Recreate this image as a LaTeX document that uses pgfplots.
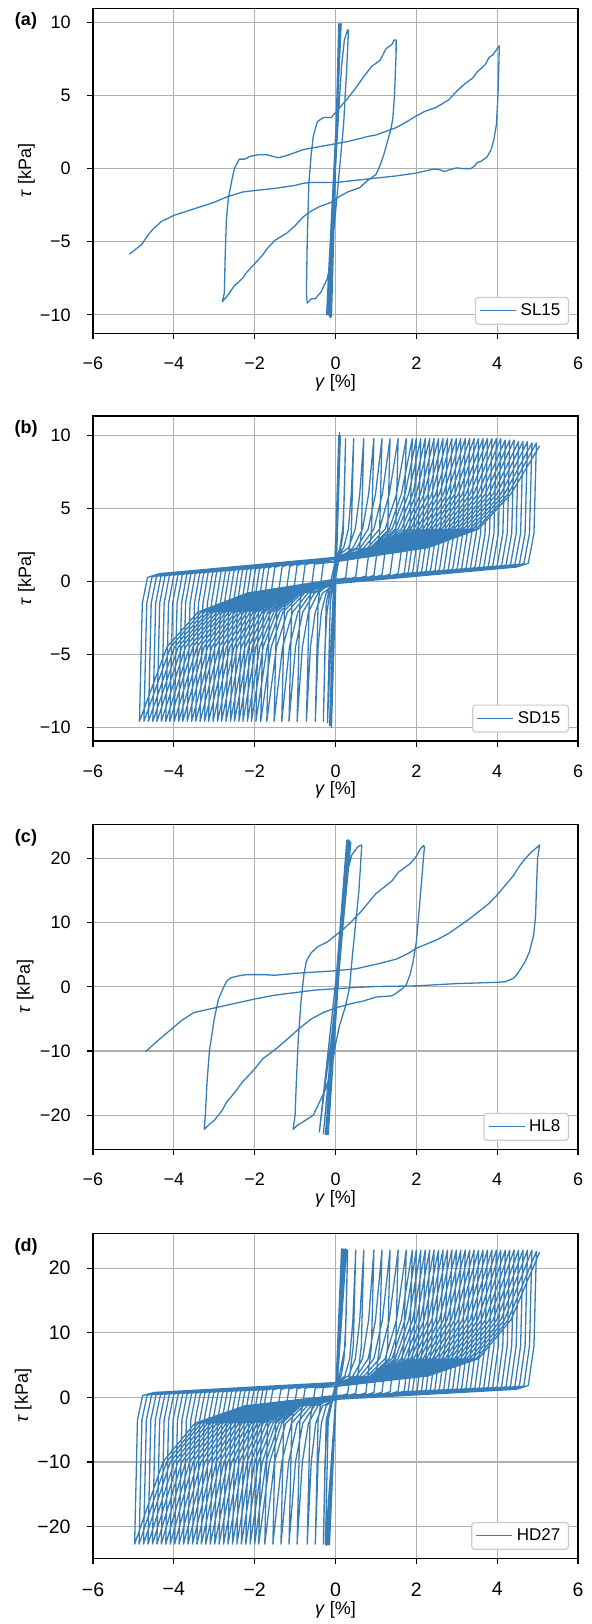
\documentclass[border=0pt]{standalone}
\usepackage{fontspec}
\setmainfont{Liberation Sans}
\usepackage{pgfplots}
\pgfplotsset{compat=1.18}
\definecolor{lc}{RGB}{55,126,184}
\definecolor{gc}{RGB}{176,176,176}
\definecolor{lg}{RGB}{204,204,204}
\pgfplotsset{
 panel/.style={
  scale only axis, width=242.5pt, height=162.5pt,
  anchor=north west,
  xmin=-6, xmax=6, xtick={-6,-4,-2,0,2,4,6},
  xticklabels={−6,−4,−2,0,2,4,6},
  tick pos=left, tick align=outside, major tick length=3pt,
  every tick/.style={black, line width=0.6pt},
  axis line style={line width=0.6pt},
  grid=major, major grid style={gc, line width=0.6pt},
  tick label style={font=\fontsize{9}{10.8}\selectfont},
  label style={font=\fontsize{9}{10.8}\selectfont},
  xticklabel style={yshift=-5.5pt},
  yticklabel style={xshift=-4.7pt},
  xlabel={\textit{γ} [\%]},
  ylabel={\textit{τ} [kPa]},
  xlabel style={at={(axis description cs:0.5,-0.151)}, anchor=center},
  ylabel style={at={(axis description cs:-0.137,0.5)}, anchor=center},
  legend style={at={(axis description cs:1,0)}, anchor=south east, xshift=-4.5pt, yshift=4.2pt,
    draw=lg, line width=0.6pt, rounded corners=1.5pt, fill=white,
    font=\fontsize{8.5}{10}\selectfont, inner xsep=2pt, inner ysep=1pt},
  legend image code/.code={\draw[#1, line width=0.6pt] (0pt,0pt) -- (18pt,0pt);},
  legend cell align=left,
 },
 curve/.style={lc, line width=0.65pt, line join=round, mark=none},
}
\begin{document}
\begin{tikzpicture}
\path[use as bounding box] (0pt,0pt) rectangle (295.5pt,-812pt);

% ---------------- (a) ----------------
\begin{axis}[panel, name=pa, at={(46.5pt,-4.15pt)},
  ymin=-11.26, ymax=10.96, ytick={-10,-5,0,5,10}, yticklabels={−10,−5,0,5,10}]
\addplot[curve] coordinates {
(0,0) (0.08,9.9) (-0.1,-10.1) (0.1,9.9) (-0.12,-10.2) (0.11,9.85) (-0.13,-10.2) (0.12,9.9) (-0.15,-10.1) (0.13,9.8) (-0.18,-10.0) (0.14,9.9) (-0.22,-10.0)
(-0.15,-6) (-0.05,-2) (0,0) (0.08,4) (0.15,7) (0.22,8.8) (0.3,9.5) (0.32,9.4) (0.28,7) (0.2,3) (0.1,0) (0,-3) (-0.1,-6) (-0.2,-7.5) (-0.35,-8.4) (-0.5,-8.9) (-0.6,-8.9) (-0.7,-9.2)
(-0.72,-8.5) (-0.7,-5) (-0.66,-1) (-0.6,1) (-0.55,2.2) (-0.45,3.2) (-0.3,3.5) (-0.1,3.5) (0.05,4) (0.3,4.8) (0.5,5.5) (0.7,6.3) (0.9,7) (1.1,7.4) (1.25,8.2) (1.4,8.5) (1.45,8.8) (1.5,8.8)
(1.5,8) (1.46,5) (1.42,3.5) (1.38,2.8) (1.3,2) (1.2,1) (1.1,0.2) (1,-0.4) (0.8,-0.8) (0.6,-1.3) (0.3,-1.6) (0.1,-1.9) (-0.1,-2.3) (-0.4,-2.6) (-0.6,-2.9) (-0.8,-3.3) (-1,-3.9) (-1.2,-4.4) (-1.5,-4.9) (-1.7,-5.5) (-1.8,-5.9) (-2,-6.5) (-2.2,-7.1) (-2.3,-7.5) (-2.5,-8) (-2.65,-8.6) (-2.8,-9.1)
(-2.75,-8.5) (-2.73,-6) (-2.7,-3.5) (-2.65,-2) (-2.55,-0.6) (-2.5,0) (-2.45,0.3) (-2.38,0.65) (-2.25,0.65) (-2.1,0.85) (-1.9,0.95) (-1.7,0.95) (-1.5,0.8) (-1.4,0.75) (-1.2,0.9) (-1,1.1) (-0.8,1.3) (-0.5,1.45) (-0.2,1.6) (0,1.7) (0.3,1.85) (0.6,2.05) (0.8,2.2) (1,2.3) (1.2,2.5) (1.5,2.8) (1.7,3.1) (2,3.6) (2.2,3.9) (2.5,4.2) (2.8,4.7) (3,5.3) (3.2,5.8) (3.4,6.2) (3.5,6.6) (3.7,7.1) (3.8,7.6) (3.9,7.8) (4,8.2) (4.05,8.4)
(4.05,8) (4.02,5) (3.98,3) (3.92,2) (3.85,1.3) (3.75,0.8) (3.6,0.5) (3.5,0.4) (3.45,0.2) (3.35,0) (3.15,0) (3,0.05) (2.85,-0.05) (2.7,-0.2) (2.55,-0.05) (2.4,-0.05) (2,-0.3) (1.5,-0.5) (1,-0.65) (0.5,-0.8) (0,-0.95) (-0.6,-0.95) (-0.8,-1) (-1,-1.15) (-1.5,-1.35) (-2,-1.5) (-2.3,-1.6) (-2.7,-1.95) (-3,-2.3) (-3.5,-2.75) (-4,-3.2) (-4.3,-3.6) (-4.5,-4.1) (-4.6,-4.4) (-4.8,-5.2) (-5.1,-5.85)
};
\addlegendentry{SL15}
\end{axis}
\node[font=\fontsize{9}{10.8}\selectfont\bfseries] at (13pt,-10.5pt) {(a)};

% ---------------- (b) ----------------
\begin{axis}[panel, name=pb, at={(46.5pt,-208pt)},
  ymin=-10.95, ymax=11.35, ytick={-10,-5,0,5,10}, yticklabels={−10,−5,0,5,10}]
\addplot[curve] coordinates {
(0,0) (0.1,10.2) (-0.1,-10) (0.08,10) (-0.12,-9.9) (0.1,10.1) (-0.1,-9.9) (0.12,9.9) (-0.15,-9.9) (0.12,10) (-0.2,-9.7)
(-0.13,-1.5) (0,1.35) (0.11,2.3) (0.18,3.6) (0.22,6) (0.25,9.8) (0.19,3.3) (0,0.15) (-0.14,-0.8) (-0.21,-2.1) (-0.26,-4.5) (-0.3,-9.6)
(-0.23,-1.5) (0,1.5) (0.2,2.3) (0.32,3.6) (0.39,6) (0.45,9.8) (0.39,3.3) (0.25,0.26) (0,0) (-0.23,-0.8) (-0.35,-2.1) (-0.43,-4.5) (-0.5,-9.6)
(-0.43,-1.5) (-0.3,1.23) (0,1.65) (0.32,2.3) (0.49,3.6) (0.6,6) (0.7,9.8) (0.64,3.3) (0.5,0.31) (0,-0.15) (-0.32,-0.8) (-0.5,-2.1) (-0.62,-4.5) (-0.72,-9.6)
(-0.65,-1.5) (-0.52,1.19) (0,1.35) (0.43,2.3) (0.67,3.6) (0.82,6) (0.95,9.8) (0.89,3.3) (0.75,0.37) (0.45,0.1) (0,0.15) (-0.43,-0.8) (-0.67,-2.1) (-0.82,-4.5) (-0.95,-9.6)
(-0.88,-1.5) (-0.75,1.14) (-0.45,1.4) (0,1.5) (0.52,2.3) (0.81,3.6) (0.99,6) (1.15,9.8) (1.09,3.3) (0.95,0.41) (0.65,0.14) (0,0) (-0.52,-0.8) (-0.81,-2.1) (-0.99,-4.5) (-1.15,-9.6)
(-1.08,-1.5) (-0.95,1.09) (-0.65,1.36) (0,1.65) (0.61,2.3) (0.95,3.6) (1.16,6) (1.35,9.8) (1.29,3.3) (1.15,0.45) (0.85,0.19) (0,-0.15) (-0.6,-0.8) (-0.93,-2.1) (-1.14,-4.5) (-1.33,-9.6)
(-1.26,-1.5) (-1.13,1.05) (-0.83,1.32) (0,1.35) (0.7,2.3) (1.09,3.6) (1.33,6) (1.55,9.8) (1.49,3.3) (1.35,0.5) (1.05,0.23) (0,0.15) (-0.68,-0.8) (-1.06,-2.1) (-1.31,-4.5) (-1.52,-9.6)
(-1.45,-1.5) (-1.32,1.01) (-1.02,1.28) (0,1.5) (0.79,2.3) (1.23,3.6) (1.51,6) (1.75,9.8) (1.69,3.3) (1.55,0.54) (1.25,0.28) (0,0) (-0.77,-0.8) (-1.19,-2.1) (-1.46,-4.5) (-1.7,-9.6)
(-1.63,-1.5) (-1.5,0.97) (-1.2,1.24) (0,1.65) (0.86,2.3) (1.33,3.6) (1.63,6) (1.9,9.8) (1.84,3.3) (1.7,0.57) (1.4,0.31) (0,-0.15) (-0.83,-0.8) (-1.3,-2.1) (-1.59,-4.5) (-1.85,-9.6)
(-1.78,-1.5) (-1.65,0.94) (-1.35,1.2) (0,1.35) (0.9,2.3) (1.4,3.6) (1.72,6) (2,9.8) (1.94,3.3) (1.8,0.6) (1.5,0.33) (0,0.15) (-0.89,-0.8) (-1.38,-2.1) (-1.69,-4.5) (-1.97,-9.6)
(-1.9,-1.5) (-1.77,0.91) (-1.47,1.18) (0,1.5) (0.95,2.3) (1.48,3.6) (1.81,6) (2.11,9.8) (2.05,3.3) (1.91,0.62) (1.61,0.35) (0,0) (-0.94,-0.8) (-1.46,-2.1) (-1.79,-4.5) (-2.08,-9.6)
(-2.01,-1.5) (-1.88,0.89) (-1.58,1.15) (0,1.65) (1,2.3) (1.55,3.6) (1.91,6) (2.22,9.8) (2.16,3.3) (2.02,0.64) (1.72,0.38) (0,-0.15) (-0.98,-0.8) (-1.53,-2.1) (-1.87,-4.5) (-2.18,-9.6)
(-2.11,-1.5) (-1.98,0.86) (-1.68,1.13) (0,1.35) (1.05,2.3) (1.63,3.6) (2,6) (2.33,9.8) (2.27,3.3) (2.13,0.67) (1.83,0.4) (0,0.15) (-1.03,-0.8) (-1.6,-2.1) (-1.97,-4.5) (-2.29,-9.6)
(-2.22,-1.5) (-2.09,0.84) (-1.79,1.11) (0,1.5) (1.1,2.3) (1.71,3.6) (2.1,6) (2.44,9.8) (2.38,3.3) (2.24,0.69) (1.94,0.43) (0,0) (-1.08,-0.8) (-1.67,-2.1) (-2.06,-4.5) (-2.39,-9.6)
(-2.32,-1.5) (-2.19,0.82) (-1.89,1.08) (0,1.65) (1.15,2.3) (1.79,3.6) (2.19,6) (2.55,9.8) (2.49,3.3) (2.35,0.72) (2.05,0.45) (0,-0.15) (-1.13,-0.8) (-1.75,-2.1) (-2.15,-4.5) (-2.5,-9.6)
(-2.43,-1.5) (-2.3,0.79) (-2,1.06) (0,1.35) (1.2,2.3) (1.86,3.6) (2.29,6) (2.66,9.8) (2.6,3.3) (2.46,0.74) (2.16,0.48) (0,0.15) (-1.17,-0.8) (-1.82,-2.1) (-2.24,-4.5) (-2.6,-9.6)
(-2.53,-1.5) (-2.4,0.77) (-2.1,1.04) (0,1.5) (1.25,2.3) (1.94,3.6) (2.38,6) (2.77,9.8) (2.71,3.3) (2.57,0.77) (2.27,0.5) (0,0) (-1.22,-0.8) (-1.9,-2.1) (-2.33,-4.5) (-2.71,-9.6)
(-2.64,-1.5) (-2.51,0.75) (-2.21,1.01) (0,1.65) (1.3,2.3) (2.02,3.6) (2.48,6) (2.88,9.8) (2.82,3.3) (2.68,0.79) (2.38,0.52) (0,-0.15) (-1.27,-0.8) (-1.97,-2.1) (-2.43,-4.5) (-2.82,-9.6)
(-2.75,-1.5) (-2.62,0.72) (-2.32,0.99) (0,1.35) (1.35,2.3) (2.09,3.6) (2.57,6) (2.99,9.8) (2.93,3.3) (2.79,0.81) (2.49,0.55) (0,0.15) (-1.31,-0.8) (-2.04,-2.1) (-2.51,-4.5) (-2.92,-9.6)
(-2.85,-1.5) (-2.72,0.7) (-2.42,0.97) (0,1.5) (1.4,2.3) (2.17,3.6) (2.67,6) (3.1,9.8) (3.04,3.3) (2.9,0.84) (2.6,0.57) (0,0) (-1.36,-0.8) (-2.12,-2.1) (-2.61,-4.5) (-3.03,-9.6)
(-2.96,-1.5) (-2.83,0.68) (-2.53,0.94) (0,1.65) (1.44,2.3) (2.25,3.6) (2.76,6) (3.21,9.8) (3.15,3.3) (3.01,0.86) (2.71,0.6) (0,-0.15) (-1.41,-0.8) (-2.2,-2.1) (-2.7,-4.5) (-3.14,-9.6)
(-3.07,-1.5) (-2.94,0.65) (-2.64,0.92) (0,1.35) (1.49,2.3) (2.32,3.6) (2.86,6) (3.32,9.8) (3.26,3.3) (3.12,0.89) (2.82,0.62) (0,0.15) (-1.46,-0.8) (-2.27,-2.1) (-2.79,-4.5) (-3.24,-9.6)
(-3.17,-1.5) (-3.04,0.63) (-2.74,0.9) (0,1.5) (1.54,2.3) (2.4,3.6) (2.95,6) (3.43,9.8) (3.37,3.3) (3.23,0.91) (2.93,0.64) (0,0) (-1.51,-0.8) (-2.35,-2.1) (-2.88,-4.5) (-3.35,-9.6)
(-3.28,-1.5) (-3.15,0.61) (-2.85,0.87) (0,1.65) (1.59,2.3) (2.48,3.6) (3.04,6) (3.54,9.8) (3.48,3.3) (3.34,0.93) (3.04,0.67) (0,-0.15) (-1.56,-0.8) (-2.42,-2.1) (-2.98,-4.5) (-3.46,-9.6)
(-3.39,-1.5) (-3.26,0.58) (-2.96,0.85) (0,1.35) (1.64,2.3) (2.56,3.6) (3.14,6) (3.65,9.8) (3.59,3.3) (3.45,0.96) (3.15,0.69) (0,0.15) (-1.6,-0.8) (-2.49,-2.1) (-3.06,-4.5) (-3.56,-9.6)
(-3.49,-1.5) (-3.36,0.56) (-3.06,0.83) (0,1.5) (1.69,2.3) (2.63,3.6) (3.23,6) (3.76,9.8) (3.7,3.3) (3.56,0.98) (3.26,0.72) (0,0) (-1.65,-0.8) (-2.57,-2.1) (-3.16,-4.5) (-3.67,-9.6)
(-3.6,-1.5) (-3.47,0.54) (-3.17,0.8) (0,1.65) (1.74,2.3) (2.71,3.6) (3.33,6) (3.87,9.8) (3.81,3.3) (3.67,1.01) (3.37,0.74) (0,-0.15) (-1.7,-0.8) (-2.65,-2.1) (-3.25,-4.5) (-3.78,-9.6)
(-3.71,-1.5) (-3.58,0.51) (-3.28,0.78) (0,1.35) (1.79,2.3) (2.79,3.6) (3.42,6) (3.98,9.8) (3.92,3.3) (3.78,1.03) (3.48,0.77) (0,0.15) (-1.75,-0.8) (-2.72,-2.1) (-3.34,-4.5) (-3.88,-9.6)
(-3.81,-1.5) (-3.68,0.49) (-3.38,0.76) (0,1.5) (1.84,2.3) (2.86,3.6) (3.52,6) (4.09,9.8) (4.03,3.3) (3.89,1.06) (3.59,0.79) (0,0) (-1.8,-0.8) (-2.79,-2.1) (-3.43,-4.5) (-3.99,-9.6)
(-3.92,-1.5) (-3.79,0.47) (-3.49,0.73) (0,1.65) (1.89,2.3) (2.94,3.6) (3.61,6) (4.2,9.7) (4.14,3.3) (4,1.08) (3.7,0.81) (0,-0.15) (-1.85,-0.8) (-2.87,-2.1) (-3.53,-4.5) (-4.1,-9.6)
(-4.03,-1.5) (-3.9,0.44) (-3.6,0.71) (0,1.35) (1.94,2.3) (3.02,3.6) (3.71,6) (4.31,9.7) (4.25,3.3) (4.11,1.1) (3.81,0.84) (0,0.15) (-1.89,-0.8) (-2.94,-2.1) (-3.61,-4.5) (-4.2,-9.6)
(-4.13,-1.5) (-4,0.42) (-3.7,0.69) (0,1.5) (1.99,2.3) (3.09,3.6) (3.8,6) (4.42,9.7) (4.36,3.3) (4.22,1.13) (3.92,0.86) (0,0) (-1.94,-0.8) (-3.02,-2.1) (-3.71,-4.5) (-4.31,-9.6)
(-4.24,-1.5) (-4.11,0.4) (-3.81,0.66) (0,1.65) (2.04,2.3) (3.17,3.6) (3.9,6) (4.53,9.6) (4.47,3.3) (4.33,1.15) (4.03,0.89) (0,-0.15) (-1.99,-0.8) (-3.09,-2.1) (-3.8,-4.5) (-4.42,-9.6)
(-4.35,-1.5) (-4.22,0.37) (-3.92,0.64) (0,1.35) (2.09,2.3) (3.25,3.6) (3.99,6) (4.64,9.6) (4.58,3.3) (4.44,1.18) (4.14,0.91) (0,0.15) (-2.03,-0.8) (-3.16,-2.1) (-3.89,-4.5) (-4.52,-9.6)
(-4.45,-1.5) (-4.32,0.35) (-4.02,0.62) (0,1.5) (2.14,2.3) (3.33,3.6) (4.09,6) (4.75,9.6) (4.69,3.3) (4.55,1.2) (4.25,0.94) (0,0) (-2.08,-0.8) (-3.24,-2.1) (-3.98,-4.5) (-4.63,-9.6)
(-4.56,-1.5) (-4.43,0.33) (-4.13,0.59) (0,1.65) (2.19,2.3) (3.4,3.6) (4.18,6) (4.86,9.5) (4.8,3.3) (4.66,1.23) (4.36,0.96) (0,-0.15) (-2.13,-0.8) (-3.32,-2.1) (-4.08,-4.5) (-4.74,-9.6)
(-4.67,-1.5) (-4.54,0.3) (-4.24,0.57) (0,1.35) (2.24,2.3) (3.48,3.6) (4.27,6) (4.97,9.5) (4.91,3.3) (4.77,1.25) (4.47,0.98) (0,0.15) (-2.18,-0.8) (-3.4,-2.1) (-4.17,-4.5) (-4.85,-9.6)
(-4.78,-1.5) (-4.65,0.28) (-4.35,0.54) (0,1.5) (2.27,2.3) (3.54,3.6) (4.34,6) (5.05,9.3)
};
\addlegendentry{SD15}
\end{axis}
\node[font=\fontsize{9}{10.8}\selectfont\bfseries] at (13pt,-214.5pt) {(b)};

% ---------------- (c) ----------------
\begin{axis}[panel, name=pc, at={(46.5pt,-412.15pt)},
  ymin=-25.3, ymax=25.3, ytick={-20,-10,0,10,20}, yticklabels={−20,−10,0,10,20},
  ylabel style={at={(axis description cs:-0.14,0.5)}}]
\addplot[curve] coordinates {
(0,0) (0.28,22.8) (-0.18,-23) (0.3,22.9) (-0.2,-23) (0.32,22.7) (-0.22,-23) (0.34,22.8) (-0.25,-23) (0.36,22.6) (-0.3,-22.9) (0.38,22.5) (-0.4,-22.6)
(-0.25,-15) (-0.1,-8) (0,-2) (0.1,5) (0.2,12) (0.3,18) (0.4,20.5) (0.55,21.8) (0.65,22.1)
(0.63,20) (0.58,15) (0.5,10) (0.42,5) (0.35,0) (0.25,-3) (0.1,-6) (0,-9) (-0.1,-13) (-0.25,-16) (-0.4,-18) (-0.55,-20) (-0.8,-21) (-0.95,-21.6) (-1.05,-22.2)
(-1,-20) (-0.97,-15) (-0.92,-8) (-0.85,-2) (-0.78,2) (-0.72,4) (-0.6,5.3) (-0.45,6.2) (-0.2,7) (0,8) (0.2,9) (0.4,10.2) (0.6,11.5) (0.8,13) (1,14.5) (1.2,15.5) (1.4,16.5) (1.55,17.8) (1.7,18.5) (1.85,19.2) (2,20.3) (2.1,21.5) (2.18,22)
(2.2,21.8) (2.15,18) (2.07,12) (2,7) (1.92,4) (1.85,2) (1.75,0.3) (1.65,-0.3) (1.5,-1) (1.4,-1.4) (1.2,-1.5) (1,-1.6) (0.7,-2.2) (0.4,-2.6) (0,-3.3) (-0.3,-4) (-0.6,-5) (-0.9,-6.5) (-1.2,-8.2) (-1.5,-9.8) (-1.8,-11.2) (-2,-12.8) (-2.3,-14.8) (-2.5,-16.5) (-2.7,-18) (-2.8,-19.2) (-3,-20.8) (-3.1,-21.3) (-3.25,-22.2)
(-3.22,-20) (-3.18,-15) (-3.12,-10) (-3,-5) (-2.9,-2) (-2.8,-0.5) (-2.7,0.8) (-2.6,1.4) (-2.4,1.7) (-2.2,1.9) (-1.8,1.9) (-1.5,1.8) (-1,2.1) (-0.5,2.3) (0,2.5) (0.5,2.8) (1,3.5) (1.5,4.3) (1.8,5.2) (2,6) (2.5,7.3) (2.8,8.3) (3,9.2) (3.3,10.5) (3.5,11.5) (3.8,13) (4,14.3) (4.2,15.8) (4.4,17.3) (4.55,18.8) (4.7,20) (4.85,21) (5,21.8) (5.05,22.1)
(5,20) (4.97,15) (4.95,11) (4.9,8) (4.8,5.5) (4.7,4) (4.6,3) (4.5,2) (4.4,1.3) (4.2,0.8) (4,0.7) (3,0.5) (2,0.15) (1,0.05) (0.5,-0.1) (0,-0.3) (-0.5,-0.5) (-1,-0.9) (-1.5,-1.3) (-2,-1.9) (-2.5,-2.6) (-3,-3.3) (-3.5,-4) (-3.8,-5.2) (-4.1,-6.8) (-4.4,-8.4) (-4.7,-10.1)
};
\addlegendentry{HL8}
\end{axis}
\node[font=\fontsize{9}{10.8}\selectfont\bfseries] at (13pt,-418.7pt) {(c)};

% ---------------- (d) ----------------
\begin{axis}[panel, name=pd, at={(46.5pt,-616.65pt)},
  ymin=-24.9, ymax=25.4, ytick={-20,-10,0,10,20}, yticklabels={−20,−10,0,10,20},
  tick label style={font=\fontsize{9.75}{11.5}\selectfont},
  ylabel style={at={(axis description cs:-0.144,0.5)}},
  xlabel style={at={(axis description cs:0.5,-0.159)}}]
\addplot[curve] coordinates {
(0,0) (0.15,23) (-0.15,-22.8) (0.18,23) (-0.18,-22.8) (0.21,22.9) (-0.2,-22.8) (0.24,23) (-0.23,-22.9) (0.27,22.9) (-0.25,-22.7)
(-0.18,-3.5) (0,1.7) (0.14,3.3) (0.21,6) (0.26,12) (0.3,22.8) (0.24,8) (0,0.3) (-0.14,-1.3) (-0.21,-4) (-0.26,-10) (-0.3,-22.7)
(-0.23,-3.5) (0,2) (0.23,3.3) (0.35,6) (0.43,12) (0.5,22.8) (0.44,8) (0.3,0.58) (0,0) (-0.23,-1.3) (-0.35,-4) (-0.43,-10) (-0.5,-22.7)
(-0.43,-3.5) (-0.3,1.52) (0,2.3) (0.32,3.3) (0.49,6) (0.6,12) (0.7,22.8) (0.64,8) (0.5,0.64) (0,-0.3) (-0.32,-1.3) (-0.49,-4) (-0.6,-10) (-0.7,-22.7)
(-0.63,-3.5) (-0.5,1.47) (0,1.7) (0.43,3.3) (0.67,6) (0.82,12) (0.95,22.8) (0.89,8) (0.75,0.71) (0.45,0.13) (0,0.3) (-0.43,-1.3) (-0.67,-4) (-0.82,-10) (-0.95,-22.7)
(-0.88,-3.5) (-0.75,1.4) (-0.45,1.88) (0,2) (0.52,3.3) (0.81,6) (0.99,12) (1.15,22.8) (1.09,8) (0.95,0.77) (0.65,0.18) (0,0) (-0.52,-1.3) (-0.81,-4) (-0.99,-10) (-1.15,-22.7)
(-1.08,-3.5) (-0.95,1.34) (-0.65,1.82) (0,2.3) (0.61,3.3) (0.95,6) (1.16,12) (1.35,22.8) (1.29,8) (1.15,0.82) (0.85,0.24) (0,-0.3) (-0.61,-1.3) (-0.95,-4) (-1.16,-10) (-1.35,-22.7)
(-1.28,-3.5) (-1.15,1.29) (-0.85,1.77) (0,1.7) (0.7,3.3) (1.09,6) (1.33,12) (1.55,22.8) (1.49,8) (1.35,0.88) (1.05,0.29) (0,0.3) (-0.7,-1.3) (-1.09,-4) (-1.33,-10) (-1.55,-22.7)
(-1.48,-3.5) (-1.35,1.24) (-1.05,1.72) (0,2) (0.79,3.3) (1.23,6) (1.51,12) (1.75,22.8) (1.69,8) (1.55,0.93) (1.25,0.35) (0,0) (-0.79,-1.3) (-1.23,-4) (-1.51,-10) (-1.75,-22.7)
(-1.68,-3.5) (-1.55,1.18) (-1.25,1.66) (0,2.3) (0.86,3.3) (1.33,6) (1.63,12) (1.9,22.8) (1.84,8) (1.7,0.98) (1.4,0.39) (0,-0.3) (-0.86,-1.3) (-1.33,-4) (-1.63,-10) (-1.9,-22.7)
(-1.83,-3.5) (-1.7,1.14) (-1.4,1.62) (0,1.7) (0.9,3.3) (1.4,6) (1.72,12) (2,22.8) (1.94,8) (1.8,1) (1.5,0.42) (0,0.3) (-0.9,-1.3) (-1.4,-4) (-1.72,-10) (-2,-22.7)
(-1.93,-3.5) (-1.8,1.11) (-1.5,1.6) (0,2) (0.95,3.3) (1.48,6) (1.81,12) (2.11,22.8) (2.05,8) (1.91,1.03) (1.61,0.45) (0,0) (-0.95,-1.3) (-1.48,-4) (-1.81,-10) (-2.11,-22.7)
(-2.04,-3.5) (-1.91,1.08) (-1.61,1.57) (0,2.3) (1,3.3) (1.55,6) (1.91,12) (2.22,22.8) (2.16,8) (2.02,1.07) (1.72,0.48) (0,-0.3) (-1,-1.3) (-1.55,-4) (-1.91,-10) (-2.22,-22.7)
(-2.15,-3.5) (-2.02,1.05) (-1.72,1.54) (0,1.7) (1.05,3.3) (1.63,6) (2,12) (2.33,22.8) (2.27,8) (2.13,1.1) (1.83,0.51) (0,0.3) (-1.05,-1.3) (-1.63,-4) (-2,-10) (-2.33,-22.7)
(-2.26,-3.5) (-2.13,1.03) (-1.83,1.51) (0,2) (1.1,3.3) (1.71,6) (2.1,12) (2.44,22.8) (2.38,8) (2.24,1.13) (1.94,0.54) (0,0) (-1.1,-1.3) (-1.71,-4) (-2.1,-10) (-2.44,-22.7)
(-2.37,-3.5) (-2.24,1) (-1.94,1.48) (0,2.3) (1.15,3.3) (1.79,6) (2.19,12) (2.55,22.8) (2.49,8) (2.35,1.16) (2.05,0.57) (0,-0.3) (-1.15,-1.3) (-1.79,-4) (-2.19,-10) (-2.55,-22.7)
(-2.48,-3.5) (-2.35,0.97) (-2.05,1.45) (0,1.7) (1.2,3.3) (1.86,6) (2.29,12) (2.66,22.8) (2.6,8) (2.46,1.19) (2.16,0.6) (0,0.3) (-1.2,-1.3) (-1.86,-4) (-2.29,-10) (-2.66,-22.7)
(-2.59,-3.5) (-2.46,0.94) (-2.16,1.42) (0,2) (1.25,3.3) (1.94,6) (2.38,12) (2.77,22.8) (2.71,8) (2.57,1.22) (2.27,0.64) (0,0) (-1.25,-1.3) (-1.94,-4) (-2.38,-10) (-2.77,-22.7)
(-2.7,-3.5) (-2.57,0.91) (-2.27,1.39) (0,2.3) (1.3,3.3) (2.02,6) (2.48,12) (2.88,22.8) (2.82,8) (2.68,1.25) (2.38,0.67) (0,-0.3) (-1.3,-1.3) (-2.02,-4) (-2.48,-10) (-2.88,-22.7)
(-2.81,-3.5) (-2.68,0.88) (-2.38,1.36) (0,1.7) (1.35,3.3) (2.09,6) (2.57,12) (2.99,22.8) (2.93,8) (2.79,1.28) (2.49,0.7) (0,0.3) (-1.35,-1.3) (-2.09,-4) (-2.57,-10) (-2.99,-22.7)
(-2.92,-3.5) (-2.79,0.85) (-2.49,1.33) (0,2) (1.4,3.3) (2.17,6) (2.67,12) (3.1,22.8) (3.04,8) (2.9,1.31) (2.6,0.73) (0,0) (-1.4,-1.3) (-2.17,-4) (-2.67,-10) (-3.1,-22.7)
(-3.03,-3.5) (-2.9,0.82) (-2.6,1.3) (0,2.3) (1.44,3.3) (2.25,6) (2.76,12) (3.21,22.8) (3.15,8) (3.01,1.34) (2.71,0.76) (0,-0.3) (-1.44,-1.3) (-2.25,-4) (-2.76,-10) (-3.21,-22.7)
(-3.14,-3.5) (-3.01,0.79) (-2.71,1.27) (0,1.7) (1.49,3.3) (2.32,6) (2.86,12) (3.32,22.8) (3.26,8) (3.12,1.37) (2.82,0.79) (0,0.3) (-1.49,-1.3) (-2.32,-4) (-2.86,-10) (-3.32,-22.7)
(-3.25,-3.5) (-3.12,0.76) (-2.82,1.24) (0,2) (1.54,3.3) (2.4,6) (2.95,12) (3.43,22.8) (3.37,8) (3.23,1.4) (2.93,0.82) (0,0) (-1.54,-1.3) (-2.4,-4) (-2.95,-10) (-3.43,-22.7)
(-3.36,-3.5) (-3.23,0.73) (-2.93,1.21) (0,2.3) (1.59,3.3) (2.48,6) (3.04,12) (3.54,22.8) (3.48,8) (3.34,1.44) (3.04,0.85) (0,-0.3) (-1.59,-1.3) (-2.48,-4) (-3.04,-10) (-3.54,-22.7)
(-3.47,-3.5) (-3.34,0.7) (-3.04,1.18) (0,1.7) (1.64,3.3) (2.56,6) (3.14,12) (3.65,22.8) (3.59,8) (3.45,1.47) (3.15,0.88) (0,0.3) (-1.64,-1.3) (-2.56,-4) (-3.14,-10) (-3.65,-22.7)
(-3.58,-3.5) (-3.45,0.67) (-3.15,1.15) (0,2) (1.69,3.3) (2.63,6) (3.23,12) (3.76,22.8) (3.7,8) (3.56,1.5) (3.26,0.91) (0,0) (-1.69,-1.3) (-2.63,-4) (-3.23,-10) (-3.76,-22.7)
(-3.69,-3.5) (-3.56,0.64) (-3.26,1.12) (0,2.3) (1.74,3.3) (2.71,6) (3.33,12) (3.87,22.8) (3.81,8) (3.67,1.53) (3.37,0.94) (0,-0.3) (-1.74,-1.3) (-2.71,-4) (-3.33,-10) (-3.87,-22.7)
(-3.8,-3.5) (-3.67,0.61) (-3.37,1.09) (0,1.7) (1.79,3.3) (2.79,6) (3.42,12) (3.98,22.8) (3.92,8) (3.78,1.56) (3.48,0.97) (0,0.3) (-1.79,-1.3) (-2.79,-4) (-3.42,-10) (-3.98,-22.7)
(-3.91,-3.5) (-3.78,0.58) (-3.48,1.06) (0,2) (1.84,3.3) (2.86,6) (3.52,12) (4.09,22.8) (4.03,8) (3.89,1.59) (3.59,1.01) (0,0) (-1.84,-1.3) (-2.86,-4) (-3.52,-10) (-4.09,-22.7)
(-4.02,-3.5) (-3.89,0.55) (-3.59,1.03) (0,2.3) (1.89,3.3) (2.94,6) (3.61,12) (4.2,22.8) (4.14,8) (4,1.62) (3.7,1.04) (0,-0.3) (-1.89,-1.3) (-2.94,-4) (-3.61,-10) (-4.2,-22.7)
(-4.13,-3.5) (-4,0.52) (-3.7,1) (0,1.7) (1.94,3.3) (3.02,6) (3.71,12) (4.31,22.8) (4.25,8) (4.11,1.65) (3.81,1.07) (0,0.3) (-1.94,-1.3) (-3.02,-4) (-3.71,-10) (-4.31,-22.7)
(-4.24,-3.5) (-4.11,0.49) (-3.81,0.97) (0,2) (1.99,3.3) (3.09,6) (3.8,12) (4.42,22.8) (4.36,8) (4.22,1.68) (3.92,1.1) (0,0) (-1.99,-1.3) (-3.09,-4) (-3.8,-10) (-4.42,-22.7)
(-4.35,-3.5) (-4.22,0.46) (-3.92,0.94) (0,2.3) (2.04,3.3) (3.17,6) (3.9,12) (4.53,22.8) (4.47,8) (4.33,1.71) (4.03,1.13) (0,-0.3) (-2.04,-1.3) (-3.17,-4) (-3.9,-10) (-4.53,-22.7)
(-4.46,-3.5) (-4.33,0.43) (-4.03,0.91) (0,1.7) (2.09,3.3) (3.25,6) (3.99,12) (4.64,22.8) (4.58,8) (4.44,1.74) (4.14,1.16) (0,0.3) (-2.09,-1.3) (-3.25,-4) (-3.99,-10) (-4.64,-22.7)
(-4.57,-3.5) (-4.44,0.4) (-4.14,0.88) (0,2) (2.14,3.3) (3.33,6) (4.09,12) (4.75,22.8) (4.69,8) (4.55,1.77) (4.25,1.19) (0,0) (-2.14,-1.3) (-3.33,-4) (-4.09,-10) (-4.75,-22.7)
(-4.68,-3.5) (-4.55,0.37) (-4.25,0.85) (0,2.3) (2.19,3.3) (3.4,6) (4.18,12) (4.86,22.8) (4.8,8) (4.66,1.8) (4.36,1.22) (0,-0.3) (-2.19,-1.3) (-3.4,-4) (-4.18,-10) (-4.86,-22.7)
(-4.79,-3.5) (-4.66,0.34) (-4.36,0.82) (0,1.7) (2.24,3.3) (3.48,6) (4.27,12) (4.97,22.6) (4.91,8) (4.77,1.84) (4.47,1.25) (0,0.3) (-2.24,-1.3) (-3.48,-4) (-4.27,-10) (-4.97,-22.7)
(-4.9,-3.5) (-4.77,0.31) (-4.47,0.79) (0,2) (2.27,3.3) (3.54,6) (4.34,12) (5.05,22.5)
};
\addlegendentry{HD27}
\end{axis}
\node[font=\fontsize{9}{10.8}\selectfont\bfseries] at (13pt,-623.2pt) {(d)};
\end{tikzpicture}
\end{document}
